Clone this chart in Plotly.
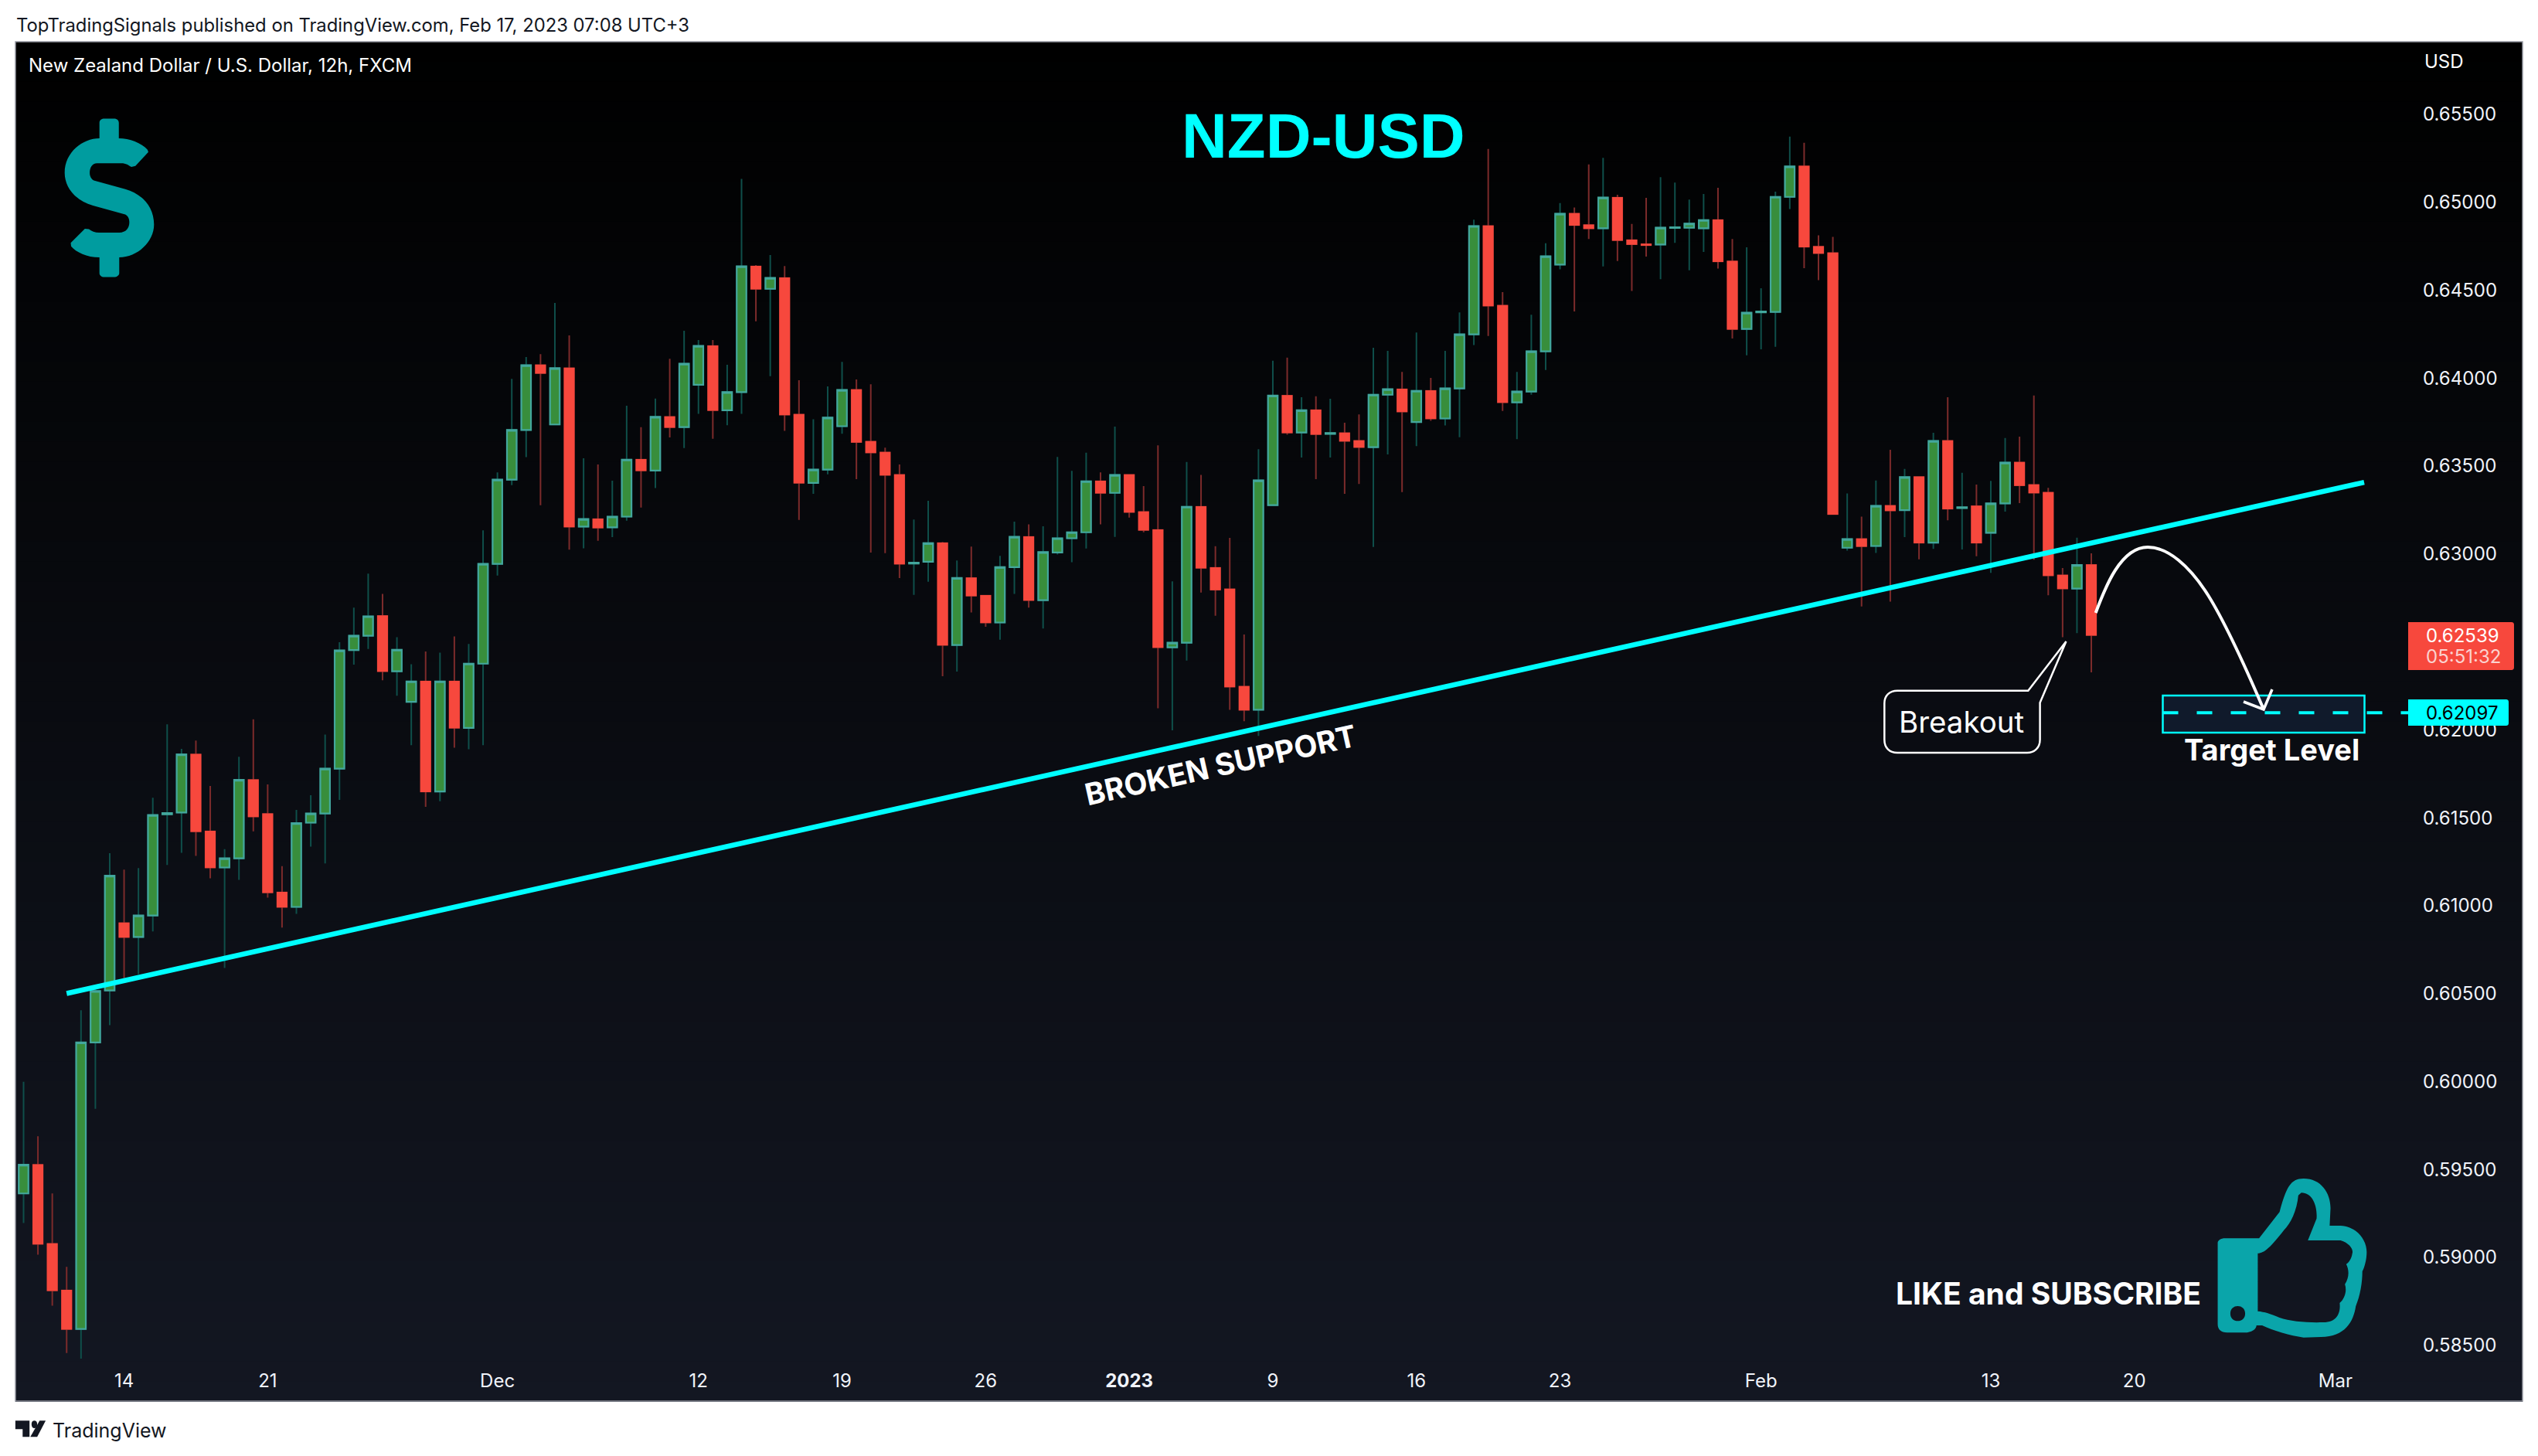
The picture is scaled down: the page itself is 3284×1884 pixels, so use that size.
import plotly.graph_objects as go

# 12h bars: one row per bar (open, high, low, close)
opens = [
    .59364, .59527, .59077, .58813, .58593, .60222, .60518, .60901, .60822, .60944,
    .61520, .61530, .61860, .61423, .61217, .61269, .61715, .61521, .61075, .60993,
    .61472, .61524, .61779, .62453, .62535, .62647, .62333, .62159, .62275, .61649,
    .62275, .62011, .62376, .62943, .63422, .63705, .64073, .63736, .64056, .63155,
    .63198, .63151, .63212, .63536, .63474, .63779, .63721, .63962, .64182, .63817,
    .63920, .64635, .64507, .64569, .63792, .63404, .63479, .63726, .63932, .63638,
    .63577, .63449, .62945, .62955, .63061, .62482, .62863, .62763, .62610, .62925,
    .63097, .62737, .63008, .63089, .63123, .63413, .63347, .63449, .63238, .63136,
    .62469, .62495, .63268, .62921, .62799, .62245, .62114, .63277, .63900, .63690,
    .63817, .63683, .63687, .63643, .63607, .63905, .63936, .63750, .63927, .63770,
    .63941, .64248, .64864, .64412, .63862, .63923, .64152, .64645, .64934, .64869,
    .64851, .65026, .64784, .64761, .64759, .64853, .64855, .64851, .64898, .64663,
    .64279, .64374, .64376, .65030, .65203, .64746, .64710, .63035, .63084, .63045,
    .63273, .63249, .63437, .63064, .63642, .63261, .63271, .63120, .63287, .63519,
    .63392, .63348, .62878, .62803, .62937,
]
highs = [
    .59999, .59689, .59364, .58947, .60405, .60550, .61298, .61205, .61214, .61614,
    .62031, .61892, .61939, .61681, .61321, .61846, .62060, .61689, .61225, .61544,
    .61628, .61973, .62498, .62694, .62888, .62773, .62527, .62373, .62445, .62439,
    .62531, .62488, .63134, .63463, .63995, .64119, .64136, .64427, .64242, .63544,
    .63508, .63416, .63842, .63721, .63883, .64109, .64269, .64216, .64216, .64075,
    .65132, .64642, .64699, .64637, .63988, .63766, .63952, .64092, .63992, .63964,
    .63604, .63508, .63195, .63302, .63068, .62963, .63042, .62763, .62989, .63183,
    .63168, .63157, .63551, .63472, .63575, .63464, .63724, .63449, .63385, .63617,
    .62844, .63523, .63449, .63044, .63091, .62542, .63595, .64098, .64116, .63891,
    .63896, .63882, .63746, .63793, .64172, .64154, .64035, .64259, .64001, .64154,
    .64373, .64900, .65302, .64488, .64035, .64360, .64766, .64995, .64970, .65214,
    .65252, .65042, .64876, .65024, .65142, .65111, .65015, .65046, .65082, .64790,
    .64743, .64510, .65060, .65373, .65338, .64811, .64802, .63344, .63212, .63417,
    .63592, .63483, .63441, .63689, .63891, .63461, .63394, .63415, .63659, .63667,
    .63901, .63376, .62920, .63092, .63003,
]
lows = [
    .59196, .59016, .58726, .58457, .58425, .59845, .60321, .60588, .60611, .60854,
    .61231, .61301, .61283, .61156, .60646, .61147, .61423, .61046, .60875, .60953,
    .61336, .61240, .61602, .62370, .62459, .62281, .62194, .61912, .61562, .61594,
    .61898, .61889, .61912, .62877, .63391, .63550, .63277, .63736, .63024, .63032,
    .63075, .63096, .63189, .63264, .63374, .63662, .63602, .63796, .63655, .63732,
    .63796, .64322, .64011, .63700, .63193, .63342, .63453, .63683, .63425, .63008,
    .63004, .62863, .62767, .62842, .62305, .62331, .62667, .62586, .62512, .62772,
    .62695, .62576, .62997, .62953, .63031, .63168, .63097, .63206, .63123, .62122,
    .61997, .62394, .62780, .62648, .62113, .62049, .61965, .63277, .63678, .63548,
    .63425, .63548, .63342, .63398, .63040, .63566, .63351, .63613, .63757, .63730,
    .63663, .64187, .64239, .63813, .63652, .63905, .64046, .64618, .64378, .64790,
    .64634, .64665, .64495, .64690, .64562, .64768, .64613, .64717, .64622, .64225,
    .64129, .64163, .64178, .64961, .64625, .64557, .63226, .63019, .62701, .63005,
    .62729, .63096, .62969, .63029, .63191, .63025, .62987, .62892, .63241, .63289,
    .62967, .62765, .62527, .62549, .62327,
]
closes = [
    .59527, .59077, .58813, .58593, .60222, .60515, .61170, .60822, .60944, .61515,
    .61526, .61860, .61423, .61217, .61269, .61715, .61507, .61075, .60993, .61469,
    .61524, .61779, .62451, .62535, .62645, .62333, .62455, .62275, .61649, .62275,
    .62011, .62376, .62943, .63422, .63705, .64073, .64028, .64056, .63155, .63198,
    .63149, .63212, .63536, .63474, .63779, .63721, .64081, .64182, .63817, .63920,
    .64635, .64507, .64569, .63792, .63404, .63479, .63775, .63932, .63636, .63577,
    .63449, .62944, .62950, .63061, .62482, .62863, .62763, .62610, .62925, .63097,
    .62737, .63010, .63089, .63123, .63413, .63347, .63449, .63238, .63136, .62469,
    .62495, .63268, .62921, .62797, .62245, .62113, .63418, .63900, .63690, .63817,
    .63681, .63687, .63643, .63607, .63905, .63936, .63809, .63927, .63770, .63941,
    .64248, .64864, .64412, .63862, .63923, .64152, .64692, .64934, .64869, .64851,
    .65026, .64784, .64761, .64755, .64855, .64857, .64878, .64898, .64663, .64279,
    .64371, .64378, .65030, .65203, .64746, .64710, .63226, .63084, .63044, .63273,
    .63247, .63437, .63064, .63642, .63257, .63265, .63064, .63287, .63519, .63390,
    .63348, .62878, .62803, .62937, .62539,
]

# time axis labels and the bars they sit on
tick_bars = [7, 17, 33, 47, 57, 67, 77, 87, 97, 107, 121, 137, 147, 161]
tick_labels = ["14", "21", "Dec", "12", "19", "26", "<b>2023</b>", "9", "16", "23", "Feb", "13", "20", "Mar"]

# broken support line
trend_bars = [3, 163]
trend_prices = [.60501, .63407]

last_price = 0.62539
countdown = "05:51:32"
target_price = 0.62097

FONT = "Inter, 'Liberation Sans', sans-serif"
W, H = 3284, 1884
PLOT_L, PLOT_R, PLOT_T, PLOT_B = 20, 3125, 54, 1770
PANE_R, PANE_B = 3264, 1813

bar_index = list(range(len(opens)))
body_high = [max(o, c) for o, c in zip(opens, closes)]
body_low = [min(o, c) for o, c in zip(opens, closes)]


def px(x):
    return (x - PLOT_L) / (PLOT_R - PLOT_L)


def py(y):
    return (PLOT_B - y) / (PLOT_B - PLOT_T)


def make_path(segments, to_x=lambda v: v, to_y=lambda v: v, close=True):
    # segments: start point, then points or (c1, c2, end) beziers, all in screen pixels
    out = []
    for i, seg in enumerate(segments):
        if isinstance(seg[0], tuple):
            coords = " ".join(f"{px(to_x(a)):.5f},{py(to_y(b)):.5f}" for a, b in seg)
            out.append("C " + coords)
        else:
            cmd = "M" if i == 0 else "L"
            out.append(f"{cmd} {px(to_x(seg[0])):.5f},{py(to_y(seg[1])):.5f}")
    if close:
        out.append("Z")
    return " ".join(out)


def paper_shape(path, **kw):
    return dict(type="path", xref="paper", yref="paper", path=path, **kw)


fig = go.Figure()

fig.add_trace(go.Scatter(
    x=trend_bars, y=trend_prices, mode="lines",
    line=dict(color="#00ffff", width=6.5), hoverinfo="skip",
))

# wicks
fig.add_trace(go.Candlestick(
    x=bar_index, open=opens, high=highs, low=lows, close=closes,
    increasing=dict(line=dict(color="#0f4f4a", width=2), fillcolor="#0f4f4a"),
    decreasing=dict(line=dict(color="#7c2b2b", width=2), fillcolor="#7c2b2b"),
    whiskerwidth=0,
))
# bodies
fig.add_trace(go.Candlestick(
    x=bar_index, open=opens, high=body_high, low=body_low, close=closes,
    increasing=dict(line=dict(color="#43a79d", width=2.2), fillcolor="#388e3c"),
    decreasing=dict(line=dict(color="#f7483d", width=1.5), fillcolor="#f7483d"),
    whiskerwidth=0,
))

shapes = []

# pane background, black at the top fading to dark navy
BANDS = 68
for n in range(BANDS):
    t = (n + 0.5) / BANDS
    col = f"rgb({round(0x13 * t)},{round(0x17 * t)},{round(0x22 * t)})"
    y0 = PLOT_T + (PANE_B - PLOT_T) * n / BANDS
    y1 = PLOT_T + (PANE_B - PLOT_T) * (n + 1) / BANDS + 1
    shapes.append(dict(
        type="rect", xref="paper", yref="paper", layer="below",
        x0=px(PLOT_L), x1=px(PANE_R), y0=py(y0), y1=py(y1),
        fillcolor=col, line=dict(width=0),
    ))
shapes.append(dict(
    type="rect", xref="paper", yref="paper", layer="below",
    x0=px(PLOT_L), x1=px(PANE_R), y0=py(PLOT_T), y1=py(PANE_B),
    line=dict(color="#9598a1", width=1.5),
))

# target box with dashed level
shapes.append(dict(
    type="rect", xref="paper", yref="paper",
    x0=px(2798.5), x1=px(3059.5), y0=py(900), y1=py(948),
    fillcolor="#101a2b", line=dict(color="#00ffff", width=2.5),
))
shapes.append(dict(
    type="line", xref="paper", yref="y",
    x0=px(2798.5), x1=px(3116), y0=target_price, y1=target_price,
    line=dict(color="#00ffff", width=4, dash="20px,24px"),
))

# forecast arrow
shapes.append(paper_shape(make_path([
    (2711.7, 793),
    ((2724, 760), (2744, 708), (2779, 708)),
    ((2805, 708), (2833, 732), (2857, 770)),
    ((2877, 802), (2905, 862), (2929, 918)),
], close=False), line=dict(color="#ffffff", width=4)))
shapes.append(paper_shape(make_path([
    (2903, 908), (2929, 918), (2940, 892),
], close=False), line=dict(color="#ffffff", width=3.5)))

# breakout callout
shapes.append(paper_shape(make_path([
    (2455, 893.7),
    (2624.3, 893.7),
    (2673.4, 830),
    (2639.6, 909.3),
    (2639.6, 957),
    ((2639.6, 968), (2632, 974), (2623, 974)),
    (2455, 974),
    ((2445, 974), (2438.3, 968), (2438.3, 957)),
    (2438.3, 910),
    ((2438.3, 900), (2445, 893.7), (2455, 893.7)),
]), line=dict(color="#ffffff", width=2.5), fillcolor="#0a0c12"))

# price badges on the axis
shapes.append(paper_shape(make_path([
    (3116, 805), (3249, 805),
    ((3252, 805), (3253, 806), (3253, 809)),
    (3253, 863),
    ((3253, 866), (3252, 867), (3249, 867)),
    (3116, 867),
]), fillcolor="#f7483d", line=dict(width=0)))
shapes.append(paper_shape(make_path([
    (3116, 905), (3242, 905),
    ((3245, 905), (3246, 906), (3246, 909)),
    (3246, 935),
    ((3246, 938), (3245, 939), (3242, 939)),
    (3116, 939),
]), fillcolor="#00ffff", line=dict(width=0)))


# dollar icon
def dx(v):
    return v / 1.912


def dy(v):
    return 150 + v / 2.24


shapes.append(paper_shape(make_path([
    (246, 20),
    ((246, 12), (252, 8), (258, 8)),
    (282, 8),
    ((288, 8), (294, 12), (294, 20)),
    (294, 65),
    ((320, 65), (350, 78), (365, 98)),
    (367, 105),
    (335, 145),
    (325, 148),
    ((318, 143), (312, 137), (300, 137)),
    (240, 137),
    ((228, 137), (222, 150), (222, 165)),
    ((222, 175), (226, 183), (232, 187)),
    (310, 212),
    ((350, 225), (381, 262), (381, 315)),
    ((381, 365), (340, 410), (295, 410)),
    (295, 455),
    ((295, 462), (289, 467), (282, 467)),
    (258, 467),
    ((251, 467), (246, 462), (246, 455)),
    (246, 410),
    ((215, 410), (188, 395), (176, 378)),
    (175, 368),
    (210, 327),
    (220, 328),
    ((226, 334), (235, 338), (245, 338)),
    (295, 338),
    ((312, 338), (320, 325), (320, 308)),
    ((320, 297), (316, 288), (308, 285)),
    (230, 260),
    ((185, 245), (160, 205), (160, 165)),
    ((160, 105), (205, 65), (246, 65)),
], dx, dy), fillcolor="#009c9f", line=dict(width=0)))


# thumbs up icon
def tx(v):
    return 2400 + v / 1.774


def ty(v):
    return 1480 + v / 3


thumb = make_path([
    (850, 367),
    (928, 367),
    (975, 265),
    ((990, 170), (1000, 135), (1030, 135)),
    ((1070, 135), (1092, 190), (1092, 250)),
    (1090, 318),
    (1115, 318),
    ((1150, 320), (1175, 370), (1175, 420)),
    ((1175, 450), (1170, 480), (1165, 495)),
    ((1165, 540), (1160, 590), (1150, 630)),
    ((1145, 690), (1125, 750), (1070, 750)),
    (1030, 752),
    ((1000, 745), (960, 725), (935, 705)),
    (922, 705),
    ((922, 720), (910, 733), (895, 733)),
    (855, 733),
    ((840, 733), (833, 720), (833, 700)),
    (833, 385),
    ((833, 375), (840, 367), (850, 367)),
], tx, ty)
hand = make_path([
    (925, 425),
    ((940, 425), (955, 400), (985, 335)),
    ((1000, 310), (1015, 260), (1018, 200)),
    (1025, 190),
    ((1050, 190), (1062, 240), (1060, 290)),
    (1040, 375),
    (1115, 375),
    ((1135, 385), (1145, 410), (1142, 425)),
    ((1140, 445), (1135, 460), (1128, 467)),
    ((1135, 490), (1135, 520), (1125, 545)),
    ((1130, 570), (1125, 600), (1113, 618)),
    ((1115, 650), (1110, 693), (1075, 693)),
    ((1040, 695), (1000, 690), (975, 675)),
    ((955, 660), (940, 652), (925, 650)),
], tx, ty)
hole = make_path([
    (862, 659),
    ((862, 640), (870, 630), (879, 630)),
    ((888, 630), (896, 640), (896, 659)),
    ((896, 678), (888, 688), (879, 688)),
    ((870, 688), (862, 678), (862, 659)),
], tx, ty)
shapes.append(paper_shape(thumb + " " + hand + " " + hole, fillcolor="#0aa5aa", line=dict(width=0)))


# TradingView logo in the footer
def lx(v):
    return v / 1.912


def ly(v):
    return 850 + v / 1.516


shapes.append(paper_shape(make_path([
    (38, 1498), (73, 1498), (73, 1530), (56, 1530), (56, 1515), (38, 1515),
], lx, ly), fillcolor="#131722", line=dict(width=0)))
shapes.append(paper_shape(make_path([
    (113, 1498), (98, 1498), (75, 1530), (92, 1530),
], lx, ly), fillcolor="#131722", line=dict(width=0)))
shapes.append(paper_shape(make_path([
    (78, 1505),
    ((78, 1500), (81, 1498), (85, 1498)),
    ((89, 1498), (92, 1500), (92, 1505)),
    ((92, 1510), (89, 1513), (85, 1513)),
    ((81, 1513), (78, 1510), (78, 1505)),
], lx, ly), fillcolor="#131722", line=dict(width=0)))


def note(text, x, y, size, color="#ffffff", bold=False, anchor="left", angle=0, font=FONT):
    return dict(
        text=f"<b>{text}</b>" if bold else text,
        xref="paper", yref="paper", x=px(x), y=py(y),
        xanchor=anchor, yanchor="middle", showarrow=False, textangle=angle,
        font=dict(family=font, size=size, color=color),
    )


annotations = [
    note("TopTradingSignals published on TradingView.com, Feb 17, 2023 07:08 UTC+3", 19, 32, 23.8, "#131722"),
    note("New Zealand Dollar / U.S. Dollar, 12h, FXCM", 35, 84, 24),
    note("USD", 3135, 80, 24),
    note("NZD-USD", 1713, 176, 81.5, "#00ffff", True, "center", font="'Liberation Sans', sans-serif"),
    note("BROKEN SUPPORT", 1579, 989, 39, bold=True, anchor="center", angle=-12.5),
    note("Breakout", 2538, 934, 38.5, anchor="center"),
    note("Target Level", 2939, 970, 38, bold=True, anchor="center"),
    note("LIKE and SUBSCRIBE", 2650, 1673, 39, bold=True, anchor="center"),
    note("TradingView", 66, 1851, 25, "#131722"),
    note(f"{last_price:.5f}", 3137, 822, 24),
    note(countdown, 3137, 849, 24, "#fbd2cf"),
    note(f"{target_price:.5f}", 3137, 922, 24, "#000000"),
]

fig.update_layout(
    width=W,
    height=H,
    margin=dict(l=PLOT_L, r=W - PLOT_R, t=PLOT_T, b=H - PLOT_B, pad=0),
    paper_bgcolor="#ffffff",
    plot_bgcolor="rgba(0,0,0,0)",
    showlegend=False,
    boxgap=0.33,
    boxgroupgap=0,
    hovermode=False,
    font=dict(family=FONT, size=24, color="#f0f3fa"),
    xaxis=dict(
        range=[-0.565, 166.55],
        tickmode="array", tickvals=tick_bars, ticktext=tick_labels,
        showgrid=False, zeroline=False, showline=False, ticks="",
        rangeslider=dict(visible=False),
        tickfont=dict(family=FONT, size=24, color="#f0f3fa"),
    ),
    yaxis=dict(
        side="right",
        range=[0.58372, 0.65912],
        tick0=0.585, dtick=0.005, tickformat=".5f",
        showgrid=False, zeroline=False, showline=False, ticks="",
        ticklabelstandoff=9,
        tickfont=dict(family=FONT, size=24, color="#f0f3fa"),
    ),
    shapes=shapes,
    annotations=annotations,
)

fig.write_html(
    "out.html",
    config=dict(displayModeBar=False),
    post_script="document.body.style.margin='0';",
)
